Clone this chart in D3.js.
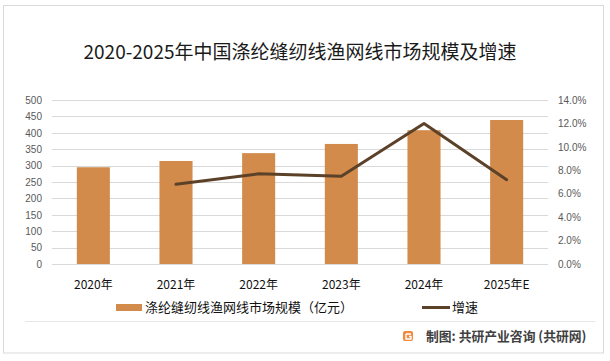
<!DOCTYPE html>
<html>
<head>
<meta charset="utf-8">
<script src="https://cdn.jsdelivr.net/npm/d3@7"></script>
<style>
  body { margin: 0; background: #fff; }
  text { font-family: "Noto Sans CJK SC", "Noto Sans", sans-serif; }
</style>
</head>
<body>
<div id="chart"></div>
<script>
var years = ["2020年", "2021年", "2022年", "2023年", "2024年", "2025年E"];
var marketSize = [295, 314, 338, 366, 408, 439];
var growth = [null, 0.068, 0.077, 0.075, 0.120, 0.072];
var leftTicks = [0, 50, 100, 150, 200, 250, 300, 350, 400, 450, 500];
var rightTicks = [0, 0.02, 0.04, 0.06, 0.08, 0.10, 0.12, 0.14];

var width = 610, height = 361;
var plot = {left: 52, right: 548, top: 100, bottom: 264};

var svg = d3.select("#chart")
  .append("svg")
    .attr("width", width)
    .attr("height", height);

svg.append("rect")
  .attr("width", width).attr("height", height).attr("fill", "#fff");

// frame
svg.append("rect")
  .attr("x", 3.5).attr("y", 5.5)
  .attr("width", 600).attr("height", 347.5)
  .attr("fill", "none")
  .attr("stroke", "#d9d9d9");

// title
svg.append("text")
  .attr("x", 300)
  .attr("y", 59)
  .attr("text-anchor", "middle")
  .attr("font-size", 19)
  .attr("fill", "#1a1a1a")
  .text("2020-2025年中国涤纶缝纫线渔网线市场规模及增速");

var x = d3.scaleBand()
  .domain(years)
  .range([plot.left, plot.right])
  .paddingInner(0.6)
  .paddingOuter(0.3);

var yL = d3.scaleLinear().domain([0, 500]).range([plot.bottom, plot.top]);
var yR = d3.scaleLinear().domain([0, 0.14]).range([plot.bottom, plot.top]);

// gridlines
svg.append("g")
  .selectAll("line")
  .data(leftTicks)
  .enter().append("line")
    .attr("x1", plot.left).attr("x2", plot.right)
    .attr("y1", function(d) { return Math.round(yL(d)) + 0.5; })
    .attr("y2", function(d) { return Math.round(yL(d)) + 0.5; })
    .attr("stroke", "#d9d9d9");

// left axis
var axL = svg.append("g")
  .attr("transform", "translate(" + 45 + ",0)")
  .call(d3.axisLeft(yL).tickValues(leftTicks).tickSize(0).tickPadding(3));
axL.select(".domain").remove();
axL.selectAll("text")
  .attr("font-size", 10)
  .attr("fill", "#595959")
  .style("font-family", "'Liberation Sans', sans-serif");

// right axis
var axR = svg.append("g")
  .attr("transform", "translate(" + 555 + ",0)")
  .call(d3.axisRight(yR).tickValues(rightTicks).tickSize(0).tickPadding(3).tickFormat(d3.format(".1%")));
axR.select(".domain").remove();
axR.selectAll("text")
  .attr("font-size", 10)
  .attr("fill", "#595959")
  .style("font-family", "'Liberation Sans', sans-serif");

// bars
svg.append("g")
  .selectAll("rect")
  .data(marketSize)
  .enter().append("rect")
    .attr("x", function(d, i) { return x(years[i]); })
    .attr("y", function(d) { return yL(d); })
    .attr("width", x.bandwidth())
    .attr("height", function(d) { return plot.bottom - yL(d); })
    .attr("fill", "#D38B4C");

// growth line
var lineData = growth.map(function(g, i) { return {year: years[i], g: g}; })
  .filter(function(d) { return d.g !== null; });

var line = d3.line()
  .x(function(d) { return x(d.year) + x.bandwidth() / 2; })
  .y(function(d) { return yR(d.g); });

svg.append("path")
  .datum(lineData)
  .attr("d", line)
  .attr("fill", "none")
  .attr("stroke", "#5C4129")
  .attr("stroke-width", 3)
  .attr("stroke-linejoin", "round")
  .attr("stroke-linecap", "round");

// x axis labels
var axX = svg.append("g")
  .attr("transform", "translate(0," + 280 + ")")
  .call(d3.axisBottom(x).tickSize(0).tickPadding(0));
axX.select(".domain").remove();
axX.selectAll("text")
  .attr("font-size", 12)
  .attr("fill", "#111");

// legend
var legend = svg.append("g");
legend.append("rect")
  .attr("x", 116).attr("y", 304)
  .attr("width", 26).attr("height", 7)
  .attr("fill", "#D38B4C");
legend.append("text")
  .attr("x", 145).attr("y", 312)
  .attr("font-size", 13)
  .attr("fill", "#111")
  .text("涤纶缝纫线渔网线市场规模（亿元）");
legend.append("line")
  .attr("x1", 422).attr("x2", 450)
  .attr("y1", 307.5).attr("y2", 307.5)
  .attr("stroke", "#5C4129")
  .attr("stroke-width", 3);
legend.append("text")
  .attr("x", 452).attr("y", 312)
  .attr("font-size", 13)
  .attr("fill", "#111")
  .text("增速");

// footer
svg.append("line")
  .attr("x1", 25).attr("x2", 595)
  .attr("y1", 321.5).attr("y2", 321.5)
  .attr("stroke", "#e6e6e6");

svg.append("rect")
  .attr("x", 403).attr("y", 331)
  .attr("width", 10).attr("height", 10)
  .attr("rx", 2)
  .attr("fill", "#F08A3C");
svg.append("path")
  .attr("d", "M406,334 h5 M406,334 v5 h5 v-2.5 h-2")
  .attr("fill", "none")
  .attr("stroke", "#fff")
  .attr("stroke-width", 1.4);

svg.append("text")
  .attr("x", 426).attr("y", 340.5)
  .attr("font-size", 12.8)
  .attr("font-weight", "bold")
  .attr("fill", "#404040")
  .text("制图: 共研产业咨询 (共研网)");
</script>
</body>
</html>
